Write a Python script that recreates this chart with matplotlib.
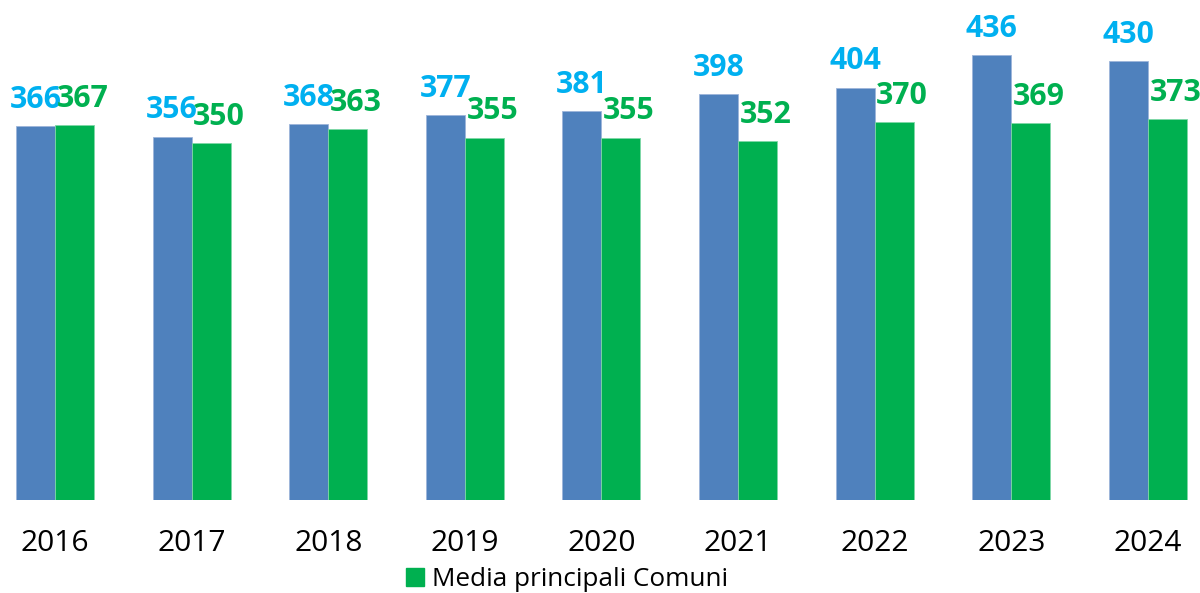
import matplotlib
matplotlib.use("Agg")
import matplotlib.pyplot as plt
from matplotlib.patches import Rectangle
import numpy as np

years = ["2016", "2017", "2018", "2019", "2020", "2021", "2022", "2023", "2024"]
blue_vals = [366, 356, 368, 377, 381, 398, 404, 436, 430]
green_vals = [367, 350, 363, 355, 355, 352, 370, 369, 373]
legend_label = "Media principali Comuni"

BLUE = "#4F81BD"
GREEN = "#00B050"
BLUE_TXT = "#00B0F0"

plt.rcParams['font.family'] = ['Open Sans', 'DejaVu Sans']

fig = plt.figure(figsize=(12, 5.93), dpi=100)
ax = fig.add_axes([0, 93/593, 1, 500/593])

x = np.arange(len(years))
w = 0.285
bb = ax.bar(x - w/2, blue_vals, w, color=BLUE, edgecolor="#9DB5DA", linewidth=0.6)
gb = ax.bar(x + w/2, green_vals, w, color=GREEN, edgecolor="#7FD7A7", linewidth=0.6)

for xi, v in zip(x, blue_vals):
    ax.annotate(str(v), (xi - w/2, v), xytext=(0, 13), textcoords="offset points",
                ha="center", va="baseline", fontsize=21.8, fontweight="bold", color=BLUE_TXT)
for xi, v in zip(x, green_vals):
    ax.annotate(str(v), (xi + w/2, v), xytext=(5.8, 13), textcoords="offset points",
                ha="center", va="baseline", fontsize=21.8, fontweight="bold", color=GREEN)

ax.set_xlim(-55/136.6, (1200-55)/136.6)
ax.set_ylim(0, 500/1.021)
ax.set_xticks(x)
ax.set_xticklabels(years, fontsize=21.5)
ax.tick_params(axis="x", length=0, pad=21)
ax.set_yticks([])
for s in ax.spines.values():
    s.set_visible(False)

handle = Rectangle((0, 0), 1, 1, color=GREEN)
fig.legend([handle], [legend_label], loc="center", bbox_to_anchor=(0.4725, 0.023),
           frameon=False, fontsize=18.8, handlelength=0.7, handleheight=0.7,
           handletextpad=0.28, borderpad=0, borderaxespad=0)

fig.savefig("out.png", dpi=100)
